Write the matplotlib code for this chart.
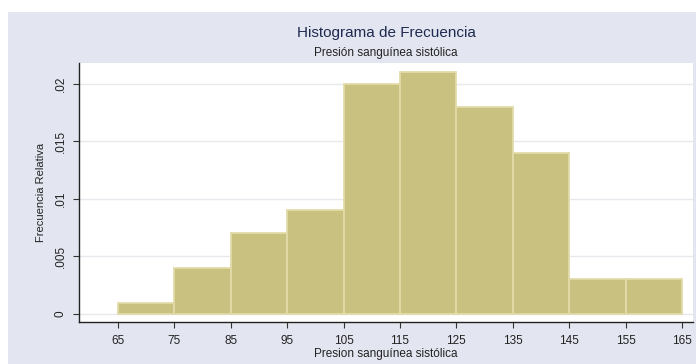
import matplotlib.pyplot as plt
from matplotlib.patches import Rectangle

# bin edges and relative frequencies
bin_edges = [65, 75, 85, 95, 105, 115, 125, 135, 145, 155, 165]
rel_freq = [0.001, 0.004, 0.007, 0.009, 0.020, 0.021, 0.018, 0.014, 0.003, 0.003]
x_ticks = [65, 75, 85, 95, 105, 115, 125, 135, 145, 155, 165]
y_ticks = [0, 0.005, 0.01, 0.015, 0.02]
y_tick_labels = ["0", ".005", ".01", ".015", ".02"]

plt.rcParams['font.family'] = ['Liberation Sans Narrow', 'Liberation Sans', 'DejaVu Sans']

W, H = 696, 364
fig = plt.figure(figsize=(W / 100, H / 100), dpi=100)
fig.patch.set_facecolor("white")

# light blue-grey graph region behind everything
fig.add_artist(Rectangle((8 / W, 0), 1 - 8 / W, 1 - 12 / H, transform=fig.transFigure,
                         facecolor="#E3E6F0", edgecolor="none", zorder=-10))

left, right, top, bottom = 79, 693, 63, 322
ax = fig.add_axes([left / W, 1 - bottom / H, (right - left) / W, (bottom - top) / H])
ax.set_facecolor("white")

widths = [b - a for a, b in zip(bin_edges[:-1], bin_edges[1:])]
ax.bar(bin_edges[:-1], rel_freq, width=widths, align="edge",
       color="#C9C17F", edgecolor="#E2DBA8", linewidth=1.3, zorder=3)

ax.set_xlim(58.1, 166.95)
ax.set_ylim(-0.00069, 0.02178)

ax.set_xticks(x_ticks)
ax.set_xticklabels([str(t) for t in x_ticks])
ax.set_yticks(y_ticks)
ax.set_yticklabels(y_tick_labels, rotation=90, va="center")
ax.tick_params(axis="both", labelsize=8.5, length=4, width=0.8, color="#333333",
               labelcolor="#222222", pad=5)

ax.grid(axis="y", color="#E8E9EF", linewidth=1, zorder=0)
for side in ["top", "right"]:
    ax.spines[side].set_visible(False)
for side in ["left", "bottom"]:
    ax.spines[side].set_color("#222222")
    ax.spines[side].set_linewidth(1)

ax.set_ylabel("Frecuencia Relativa", fontsize=8, color="#222222", labelpad=6)
ax.set_xlabel("Presion sanguínea sistólica", fontsize=8.5, color="#222222", labelpad=1)

fig.text(386 / W, 1 - 33 / H, "Histograma de Frecuencia", ha="center", va="center",
         fontsize=11, color="#1E2A50")
fig.text(386 / W, 1 - 53 / H, "Presión sanguínea sistólica", ha="center", va="center",
         fontsize=8.5, color="#222222")

fig.savefig("out.png", dpi=100)
